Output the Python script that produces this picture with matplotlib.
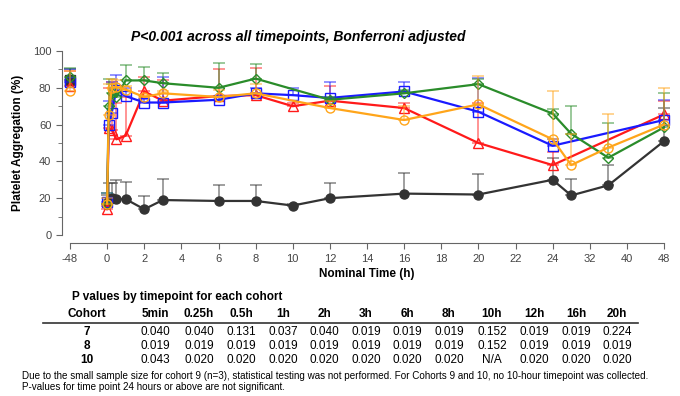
import numpy as np
import matplotlib
matplotlib.use("Agg")
from matplotlib import pyplot as plt
from matplotlib.lines import Line2D
from matplotlib.ticker import MultipleLocator

plt.rcParams['font.family'] = ['Liberation Sans', 'DejaVu Sans']

# tiempos nominales (h)
t_all = [-48, 0, 5/60, 0.25, 0.5, 1, 2, 3, 6, 8, 10, 12, 16, 20, 24, 28, 36, 48]
t_no10 = [-48, 0, 5/60, 0.25, 0.5, 1, 2, 3, 6, 8, 12, 16, 20, 24, 28, 36, 48]
t_no_late = [-48, 0, 5/60, 0.25, 0.5, 1, 2, 3, 6, 8, 10, 12, 16, 20, 24, 48]

black_y = [84, 17, 19, 20, 19.5, 19.5, 14, 19, 18.5, 18.5, 16, 20, 22.5, 22, 30, 21.5, 27, 51]
black_hi = [90, 22, 28, 28, 30, 29, 21, 30.5, 27, 27, 17, 28.5, 33.5, 33, 42, 30.5, 38, 69]

red_y = [81, 14, 58, 57, 52, 54, 78, 73, 75.5, 76, 70, 73, 69, 50, 38, 65.5]
red_hi = [89, 16, 80, 83, 72, 75, 86, 84, 90, 91, 72, 81, 72, 72, 45, 73]

blue_y = [83, 18, 60, 66.5, 79, 75.5, 72, 72, 73.5, 77, 76, 74.5, 78, 67, 48.5, 62.5]
blue_hi = [90, 23, 73, 83, 87, 80, 74, 86, 75, 80, 80, 83, 83, 85.5, 52, 73.5]

green_y = [86, 17, 70, 77, 75, 84, 84, 82.5, 80, 85, 73.5, 77, 82, 66, 55, 42, 58.5]
green_hi = [91, 23, 85, 82, 80, 92.5, 91.5, 88, 93.5, 93, 75, 79, 85, 68.5, 70, 61, 77]

orange_y = [78, 17, 65, 80, 80.5, 79, 75, 77, 75, 77, 69, 62.5, 71, 52, 38, 47.5, 60]
orange_hi = [89, 20, 82, 85, 84, 81, 76, 78, 79, 82, 73, 70, 86.5, 78.5, 55, 66, 80]

xticks = [-48, 0, 2, 4, 6, 8, 10, 12, 14, 16, 18, 20, 22, 24, 32, 40, 48]

# tabla de valores p
col_labels = ['5min', '0.25h', '0.5h', '1h', '2h', '3h', '6h', '8h', '10h', '12h', '16h', '20h']
cohorts = ['7', '8', '10']
pvals = [
    ['0.040', '0.040', '0.131', '0.037', '0.040', '0.019', '0.019', '0.019', '0.152', '0.019', '0.019', '0.224'],
    ['0.019', '0.019', '0.019', '0.019', '0.019', '0.019', '0.019', '0.019', '0.152', '0.019', '0.019', '0.019'],
    ['0.043', '0.020', '0.020', '0.020', '0.020', '0.020', '0.020', '0.020', 'N/A', '0.020', '0.020', '0.020'],
]
nota = ("Due to the small sample size for cohort 9 (n=3), statistical testing was not performed. "
        "For Cohorts 9 and 10, no 10-hour timepoint was collected.\n"
        "P-values for time point 24 hours or above are not significant.")


# eje x por tramos: -48..0 comprimido, 0..24 lineal, 24..48 comprimido
def fwd(t):
    t = np.asarray(t, dtype=float)
    return np.where(t < 0, t / 24.0, np.where(t <= 24, t, 24 + (t - 24) / 4.0))

def inv(p):
    p = np.asarray(p, dtype=float)
    return np.where(p < 0, p * 24.0, np.where(p <= 24, p, 24 + (p - 24) * 4.0))


W, H = 680, 396
fig = plt.figure(figsize=(6.8, 3.96), dpi=100)
ax = fig.add_axes([70 / W, 1 - 235 / H, (664 - 70) / W, (235 - 51) / H])
ax.set_xscale('function', functions=(fwd, inv))
ax.set_xlim(-48, 48)
ax.set_ylim(0, 100)

series = [
    (t_all, black_y, black_hi, '#333333', 'o', True),
    (t_no_late, red_y, red_hi, '#ff1a1a', '^', False),
    (t_no_late, blue_y, blue_hi, '#1a1aff', 's', False),
    (t_no10, green_y, green_hi, '#2a8c2a', 'D', False),
    (t_no10, orange_y, orange_hi, '#ffa51a', 'o', False),
]

for t, y, hi, c, m, lleno in series:
    t = np.array(t); y = np.array(y); hi = np.array(hi)
    err = hi - y
    ax.errorbar(t, y, yerr=[np.zeros_like(err), err], fmt='none', ecolor=c,
                alpha=0.55, elinewidth=1.2, capsize=4, capthick=1.2, clip_on=False)
    ms = 6.5 if m != 'D' else 5.5
    fc = c if lleno else 'none'
    ax.plot(t[1:], y[1:], '-', color=c, lw=1.6, marker=m, markersize=ms,
            markerfacecolor=fc, markeredgecolor=c, markeredgewidth=1.0, clip_on=False)
    m0 = 's' if lleno else m
    ax.plot(t[:1], y[:1], linestyle='none', marker=m0, markersize=ms,
            markerfacecolor=fc, markeredgecolor=c, markeredgewidth=1.0, clip_on=False)

for s in ['top', 'right']:
    ax.spines[s].set_visible(False)
ax.spines['left'].set_position(('outward', 6))
ax.spines['bottom'].set_position(('outward', 6))
ax.spines['left'].set_bounds(0, 100)
ax.spines['bottom'].set_bounds(-48, 48)
for s in ['left', 'bottom']:
    ax.spines[s].set_color('#666666')

ax.set_xticks(xticks)
ax.set_xticklabels([str(x) for x in xticks])
ax.minorticks_off()
ax.yaxis.set_major_locator(MultipleLocator(20))
ax.yaxis.set_minor_locator(MultipleLocator(10))
ax.tick_params(axis='both', which='major', labelsize=8, colors='#666666',
               labelcolor='#444444', length=4)
ax.tick_params(axis='y', which='minor', length=3, colors='#666666')
ax.set_xlabel('Nominal Time (h)', fontsize=8.5, fontweight='bold', labelpad=3)
ax.set_ylabel('Platelet Aggregation (%)', fontsize=8.5, fontweight='bold', labelpad=6)

fig.text(298 / W, 1 - 37 / H, 'P<0.001 across all timepoints, Bonferroni adjusted',
         ha='center', va='center', fontsize=10, fontweight='bold', fontstyle='italic')

# tabla
col_x = [155, 199, 241, 283, 324, 366, 407, 449, 492, 534, 576, 617]
fig.text(177 / W, 1 - 297 / H, 'P values by timepoint for each cohort',
         ha='center', va='center', fontsize=8.5, fontweight='bold')
fig.text(87 / W, 1 - 314 / H, 'Cohort', ha='center', va='center', fontsize=8.5, fontweight='bold')
for x, lab in zip(col_x, col_labels):
    fig.text(x / W, 1 - 314 / H, lab, ha='center', va='center', fontsize=8.5, fontweight='bold')
fig.add_artist(Line2D([43 / W, 638 / W], [1 - 323 / H, 1 - 323 / H], color='#333333', lw=1.2))
row_y = [332, 346, 360]
for yy, coh, fila in zip(row_y, cohorts, pvals):
    fig.text(87 / W, 1 - yy / H, coh, ha='center', va='center', fontsize=8.5, fontweight='bold')
    for x, v in zip(col_x, fila):
        fig.text(x / W, 1 - yy / H, v, ha='center', va='center', fontsize=8.5)
fig.text(22 / W, 1 - 371 / H, nota, ha='left', va='top', fontsize=7.1, linespacing=1.15)

fig.savefig('out.png', dpi=100)
